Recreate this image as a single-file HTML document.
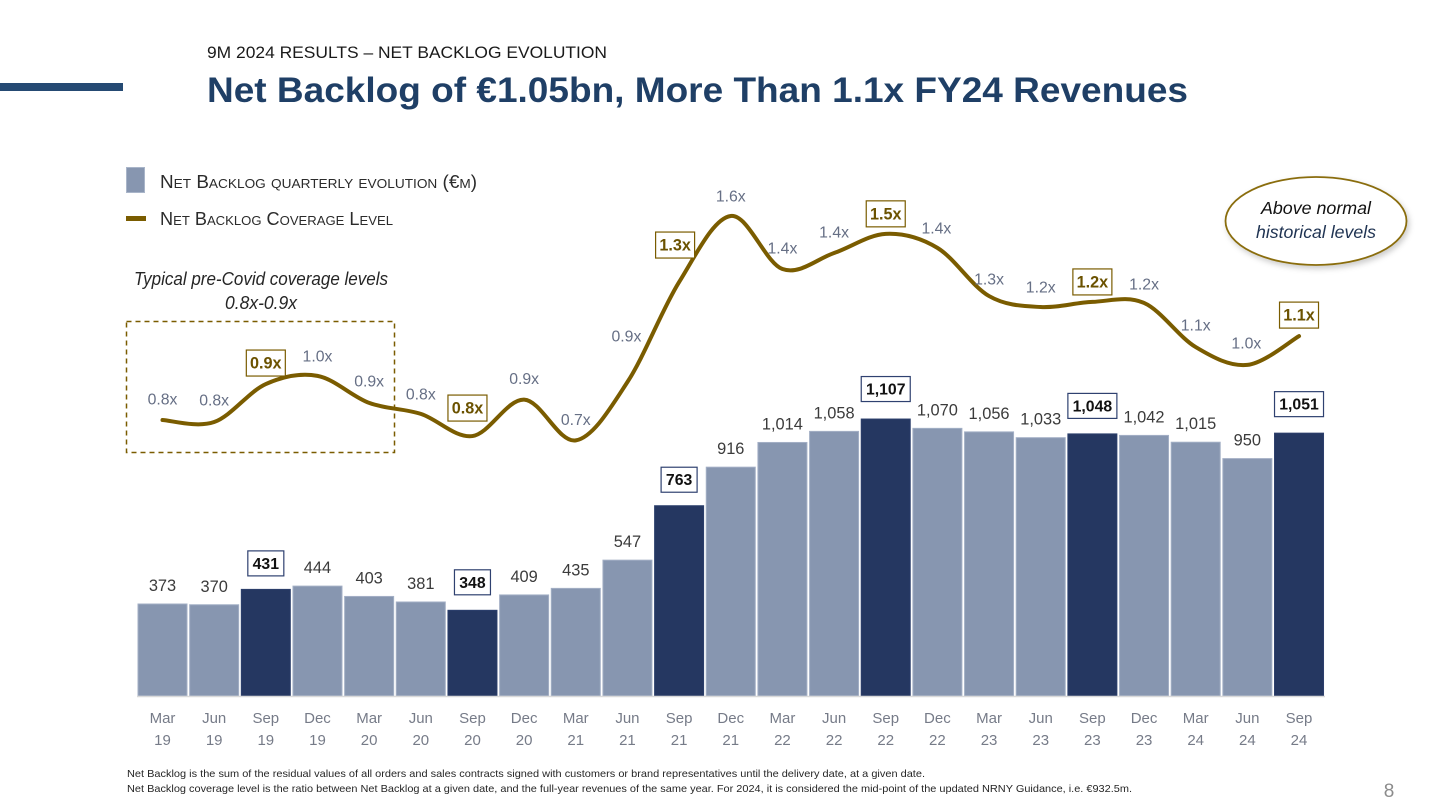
<!DOCTYPE html>
<html lang="en">
<head>
<meta charset="utf-8">
<title>Net Backlog Evolution</title>
<style>
html,body{margin:0;padding:0;background:#fff;width:1456px;height:812px;overflow:hidden}
svg{display:block;font-family:"Liberation Sans",sans-serif}
</style>
</head>
<body>
<svg id="slide" xmlns="http://www.w3.org/2000/svg" width="1456" height="812" viewBox="0 0 1456 812">
  <defs>
    <filter id="oval-shadow" x="-20%" y="-20%" width="140%" height="150%">
      <feDropShadow dx="2" dy="3" stdDeviation="3" flood-color="#000" flood-opacity="0.2"/>
    </filter>
  </defs>
  <rect x="0" y="83" width="123" height="8" fill="#254a73"/>
  <text x="207" y="58" font-size="17" fill="#1a1a1a" textLength="400" lengthAdjust="spacingAndGlyphs">9M 2024 RESULTS – NET BACKLOG EVOLUTION</text>
  <text x="207" y="102" font-size="35" font-weight="bold" fill="#1f3f66" textLength="981" lengthAdjust="spacingAndGlyphs">Net Backlog of €1.05bn, More Than 1.1x FY24 Revenues</text>

  <g>
    <rect x="126.5" y="167.5" width="18" height="25" fill="#8796B0" stroke="#a9b5c9"/>
    <text x="160" y="188" font-size="18" fill="#2b2b2b" style="font-variant:small-caps" textLength="317" lengthAdjust="spacingAndGlyphs">Net Backlog quarterly evolution (€m)</text>
    <rect x="126" y="216" width="20" height="5" fill="#7a5c00"/>
    <text x="160" y="225" font-size="18" fill="#2b2b2b" style="font-variant:small-caps" textLength="233" lengthAdjust="spacingAndGlyphs">Net Backlog Coverage Level</text>
  </g>

  <g>
    <text x="261" y="285" font-size="18" font-style="italic" fill="#262626" text-anchor="middle" textLength="254" lengthAdjust="spacingAndGlyphs">Typical pre-Covid coverage levels</text>
    <text x="261" y="309" font-size="18" font-style="italic" fill="#262626" text-anchor="middle" textLength="72" lengthAdjust="spacingAndGlyphs">0.8x-0.9x</text>
    <rect x="126.5" y="321.5" width="268" height="131" fill="none" stroke="#7a5c00" stroke-width="1.5" stroke-dasharray="5 4"/>
  </g>

  <g id="bars"></g>
  <line x1="137" y1="696.5" x2="1325" y2="696.5" stroke="#d9d9d9" stroke-width="1.5"/>
  <g id="x-labels"></g>
  <g id="bar-labels"></g>
  <path id="coverage-line" fill="none" stroke="#7a5c00" stroke-width="4" stroke-linecap="round" stroke-linejoin="round"/>
  <g id="coverage-labels"></g>

  <g>
    <ellipse cx="1316" cy="221" rx="90.5" ry="44" fill="#fff" stroke="#8a6d10" stroke-width="1.8" filter="url(#oval-shadow)"/>
    <text x="1316" y="214" font-size="17.5" font-style="italic" fill="#111" text-anchor="middle" textLength="110" lengthAdjust="spacingAndGlyphs">Above normal</text>
    <text x="1316" y="238" font-size="17.5" font-style="italic" fill="#1f3352" text-anchor="middle" textLength="120" lengthAdjust="spacingAndGlyphs">historical levels</text>
  </g>

  <g>
    <text x="127" y="777" font-size="10.5" fill="#262626" textLength="798" lengthAdjust="spacingAndGlyphs">Net Backlog is the sum of the residual values of all orders and sales contracts signed with customers or brand representatives until the delivery date, at a given date.</text>
    <text x="127" y="792" font-size="10.5" fill="#262626" textLength="1005" lengthAdjust="spacingAndGlyphs">Net Backlog coverage level is the ratio between Net Backlog at a given date, and the full-year revenues of the same year. For 2024, it is considered the mid-point of the updated NRNY Guidance, i.e. €932.5m.</text>
  </g>
  <text x="1389" y="797" font-size="19" fill="#8c8c8c" text-anchor="middle">8</text>
</svg>

<script>
const categories = ['Mar 19','Jun 19','Sep 19','Dec 19','Mar 20','Jun 20','Sep 20','Dec 20','Mar 21','Jun 21','Sep 21','Dec 21','Mar 22','Jun 22','Sep 22','Dec 22','Mar 23','Jun 23','Sep 23','Dec 23','Mar 24','Jun 24','Sep 24'];
const backlogValues = [373,370,431,444,403,381,348,409,435,547,763,916,1014,1058,1107,1070,1056,1033,1048,1042,1015,950,1051];
const coverageValues = [0.80,0.792,0.941,0.973,0.867,0.824,0.737,0.88,0.72,0.949,1.341,1.6,1.392,1.455,1.53,1.475,1.286,1.243,1.263,1.259,1.086,1.016,1.129];
const coverageLabels = ['0.8x','0.8x','0.9x','1.0x','0.9x','0.8x','0.8x','0.9x','0.7x','0.9x','1.3x','1.6x','1.4x','1.4x','1.5x','1.4x','1.3x','1.2x','1.2x','1.2x','1.1x','1.0x','1.1x'];
const highlightedQuarters = ['Sep 19','Sep 20','Sep 21','Sep 22','Sep 23','Sep 24'];

/* label placement relative to each mark, layout only */
const coverageNudgeX = [0,0,0,0,0,0,-5,0,0,-1,-4,0,0,0,0,-1,0,0,0,0,0,-1,0];
const coverageNudgeY = [-21,-22,-21,-20,-22,-20,-28,-21,-21,-46,-37,-20,-21,-21,-20,-20,-17,-20,-20,-19,-22,-22,-21];
const backlogBoxLift = [0,0,26,0,0,0,28,0,0,0,26,0,0,0,30,0,0,0,28,0,0,0,29];

const SVG_NS = 'http://www.w3.org/2000/svg';
const BASELINE = 696;
const xScale = i => 162.5 + i * 51.66;
const yBar = v => 698 - v * 0.252;
const yCoverage = v => 624 - v * 255;

function make(parent, tag, attrs, text) {
  const el = document.createElementNS(SVG_NS, tag);
  for (const k in attrs) el.setAttribute(k, attrs[k]);
  if (text !== undefined) el.textContent = text;
  parent.appendChild(el);
  return el;
}

const barsG = document.getElementById('bars');
const barLabelsG = document.getElementById('bar-labels');
const xLabelsG = document.getElementById('x-labels');
const covLabelsG = document.getElementById('coverage-labels');

categories.forEach((cat, i) => {
  const hi = highlightedQuarters.includes(cat);
  const x = xScale(i);
  const v = backlogValues[i];
  const top = yBar(v);
  const slug = cat.toLowerCase().replace(' ', '-');

  const bar = make(barsG, 'rect', {x: x - 24.5, y: top, width: 49, height: Math.max(0, BASELINE - top), fill: hi ? '#253761' : '#8796B0', stroke: hi ? '#2c3f6c' : '#a3afc5', 'stroke-width': 1});
  
  

  const valueText = v >= 1000 ? String(v).slice(0, -3) + ',' + String(v).slice(-3) : String(v);
  if (hi) {
    const w = v >= 1000 ? 49 : 36;
    const box = make(barLabelsG, 'rect', {x: x - w / 2, y: top - backlogBoxLift[i] - 12.5, width: w, height: 25, fill: '#fff', stroke: '#2f4170', 'stroke-width': 1.2});
    
    
  }
  const label = make(barLabelsG, 'text', {x: x, y: hi ? top - backlogBoxLift[i] + 5.5 : top - 13, 'font-size': hi ? 15.8 : 16.4, 'font-weight': hi ? 'bold' : 'normal', fill: hi ? '#111' : '#3b3b3b', 'text-anchor': 'middle'}, valueText);
  
  

  const parts = cat.split(' ');
  const month = make(xLabelsG, 'text', {x: x, y: 723, 'font-size': 15, fill: '#767b88', 'text-anchor': 'middle'}, parts[0]);
  
  
  const year = make(xLabelsG, 'text', {x: x, y: 745, 'font-size': 15, fill: '#767b88', 'text-anchor': 'middle'}, parts[1]);
  
  
});

/* smooth coverage line: Catmull-Rom through the values */
const pts = coverageValues.map((v, i) => [xScale(i), yCoverage(v)]);
let d = 'M' + pts[0][0] + ' ' + pts[0][1];
for (let i = 0; i < pts.length - 1; i++) {
  const p0 = pts[Math.max(0, i - 1)], p1 = pts[i], p2 = pts[i + 1], p3 = pts[Math.min(pts.length - 1, i + 2)];
  const c1x = p1[0] + (p2[0] - p0[0]) / 6, c1y = p1[1] + (p2[1] - p0[1]) / 6;
  const c2x = p2[0] - (p3[0] - p1[0]) / 6, c2y = p2[1] - (p3[1] - p1[1]) / 6;
  d += ' C' + c1x + ' ' + c1y + ' ' + c2x + ' ' + c2y + ' ' + p2[0] + ' ' + p2[1];
}
document.getElementById('coverage-line').setAttribute('d', d);

categories.forEach((cat, i) => {
  const hi = highlightedQuarters.includes(cat);
  const slug = cat.toLowerCase().replace(' ', '-');
  const cx = xScale(i) + coverageNudgeX[i];
  const cy = yCoverage(coverageValues[i]) + coverageNudgeY[i];
  if (hi) {
    const box = make(covLabelsG, 'rect', {x: cx - 19.5, y: cy - 13, width: 39, height: 26, fill: '#fff', stroke: '#7a5c00', 'stroke-width': 1.2});
    
    
  }
  const label = make(covLabelsG, 'text', {x: cx, y: cy + 5.5, 'font-size': hi ? 16.2 : 15.8, 'font-weight': hi ? 'bold' : 'normal', fill: hi ? '#6b5200' : '#666f85', 'text-anchor': 'middle'}, coverageLabels[i]);
  
  
});
</script>
</body>
</html>
